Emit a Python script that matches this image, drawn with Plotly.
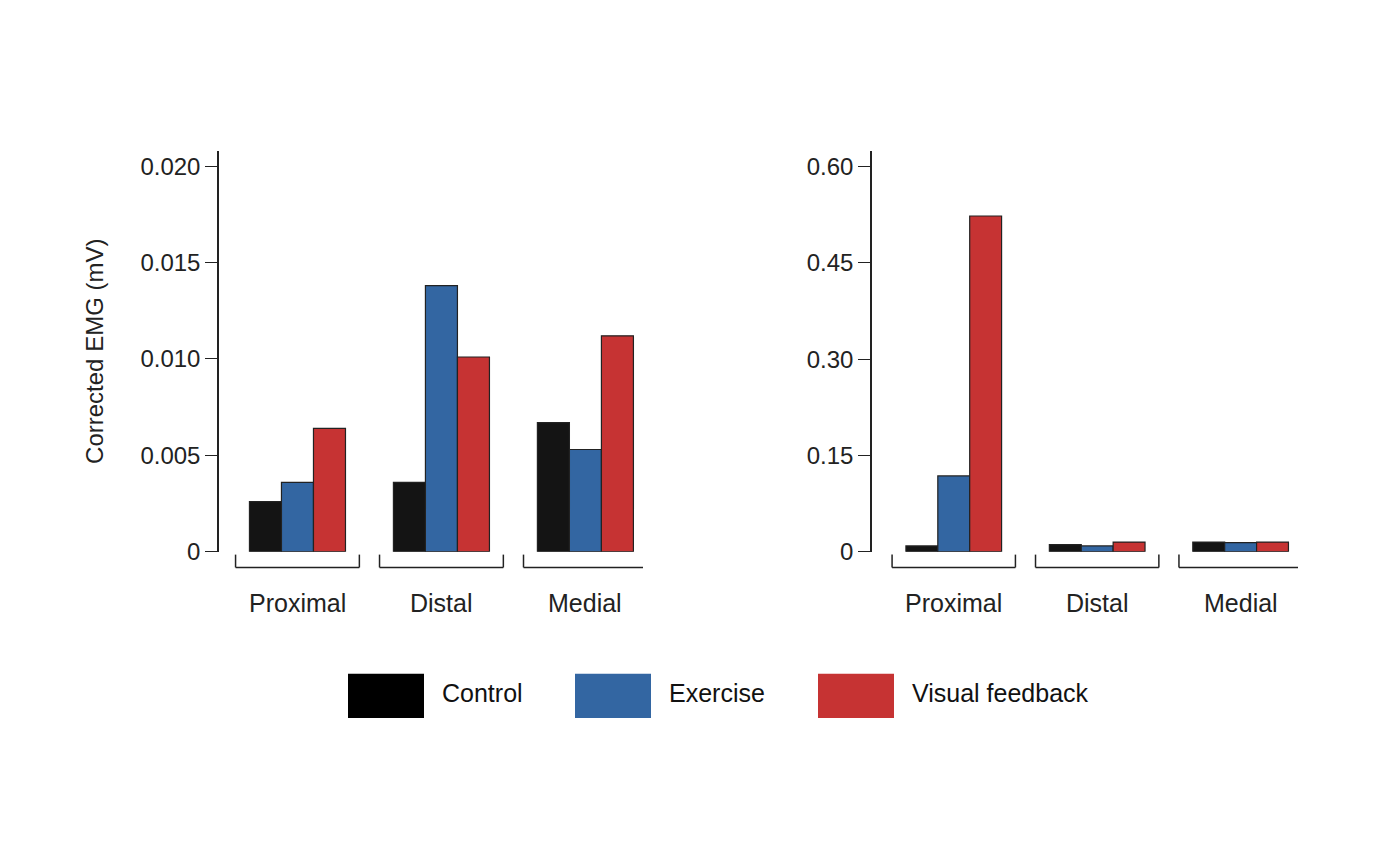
import plotly.graph_objects as go

groups = ["Proximal", "Distal", "Medial"]
series = ["Control", "Exercise", "Visual feedback"]
colors = ["#141414", "#3366a2", "#c63333"]

left_vals = [
    [0.0026, 0.0036, 0.0067],
    [0.0036, 0.0138, 0.0053],
    [0.0064, 0.0101, 0.0112],
]
right_vals = [
    [0.009, 0.011, 0.015],
    [0.118, 0.009, 0.014],
    [0.523, 0.015, 0.015],
]
left_ticks = [0, 0.005, 0.010, 0.015, 0.020]
left_ticktext = ["0", "0.005", "0.010", "0.015", "0.020"]
right_ticks = [0, 0.15, 0.30, 0.45, 0.60]
right_ticktext = ["0", "0.15", "0.30", "0.45", "0.60"]

W, H = 1382, 860
FONT = "Liberation Sans, Arial, sans-serif"

fig = go.Figure()
xs = list(range(len(groups)))
for k, name in enumerate(series):
    fig.add_trace(go.Bar(x=xs, y=left_vals[k], name=name, marker_color=colors[k],
                         marker_line=dict(color="#222", width=1.2),
                         xaxis="x", yaxis="y", showlegend=False))
    fig.add_trace(go.Bar(x=xs, y=right_vals[k], name=name, marker_color=colors[k],
                         marker_line=dict(color="#222", width=1.2),
                         xaxis="x2", yaxis="y2", showlegend=False))

ydom = [1 - 552 / H, 1 - 145 / H]
common_y = dict(showline=True, linecolor="#222", linewidth=1.5, ticks="outside",
                ticklen=12, tickcolor="#222", showgrid=False, zeroline=False,
                tickfont=dict(size=24, color="#222", family=FONT), domain=ydom)
common_x = dict(showline=False, showgrid=False, zeroline=False, showticklabels=False,
                ticks="")

fig.update_layout(
    width=W, height=H, margin=dict(l=0, r=0, t=0, b=0),
    plot_bgcolor="white", paper_bgcolor="white",
    barmode="group", bargap=0.333, bargroupgap=0,
    font=dict(family=FONT, color="#222"),
    xaxis=dict(common_x, domain=[211 / W, 635 / W], range=[-0.545, 2.4]),
    xaxis2=dict(common_x, domain=[864 / W, 1290 / W], range=[-0.57, 2.4]),
    yaxis=dict(common_y, range=[0, 0.0208], tickvals=left_ticks, ticktext=left_ticktext,
               anchor="x", title=dict(text="Corrected EMG (mV)", font=dict(size=24), standoff=30)),
    yaxis2=dict(common_y, range=[0, 0.6246], tickvals=right_ticks, ticktext=right_ticktext,
                anchor="x2"),
)

shapes, annos = [], []
yb, yt = 1 - 568 / H, 1 - 555 / H
for xr in ["x", "x2"]:
    for i, g in enumerate(groups):
        a, b = i - 0.43, i + 0.43
        line = dict(color="#222", width=1.5)
        shapes += [
            dict(type="line", xref=xr, yref="paper", x0=a, x1=b, y0=yb, y1=yb, line=line),
            dict(type="line", xref=xr, yref="paper", x0=a, x1=a, y0=yb, y1=yt, line=line),
            dict(type="line", xref=xr, yref="paper", x0=b, x1=b, y0=yb, y1=yt, line=line),
        ]
        annos.append(dict(text=g, xref=xr, yref="paper", x=i, y=1 - 604 / H,
                          showarrow=False, font=dict(size=25, color="#222"),
                          xanchor="center", yanchor="middle"))

box_x = [340, 567, 810]
for k, name in enumerate(series):
    x0 = box_x[k]
    shapes.append(dict(type="rect", xref="paper", yref="paper",
                       x0=x0 / W, x1=(x0 + 76) / W, y0=1 - 721 / H, y1=1 - 676 / H,
                       fillcolor=colors[k] if k else "#000", line=dict(width=0)))
    annos.append(dict(text=name, xref="paper", yref="paper", x=(x0 + 92) / W,
                      y=1 - 696 / H, showarrow=False, xanchor="left", yanchor="middle",
                      font=dict(size=25, color="#111")))

fig.update_layout(shapes=shapes, annotations=annos)
fig.write_html("out.html")
